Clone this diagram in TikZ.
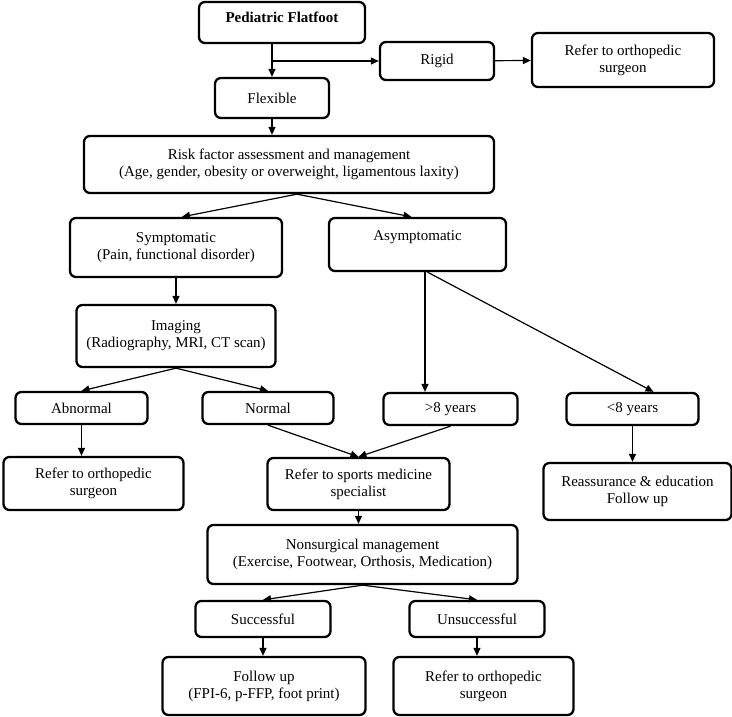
\documentclass[tikz,border=0pt]{standalone}
\usepackage{fontspec}
\setmainfont{Liberation Serif}
\usepackage{tikz}
\usetikzlibrary{arrows.meta,shapes,positioning,automata,calc}

\begin{document}
\begin{tikzpicture}[->,>={Triangle[length=8pt,width=7pt]},auto,
line width=1.2pt, font=\fontsize{15}{17}\selectfont]

\tikzstyle{every state}=[rectangle, rounded corners=6pt, align=center, text centered,
fill=none,draw,text=black, line width=2.3pt, inner sep=2pt]

\useasboundingbox (-282pt,22.5pt) rectangle (450pt,-693.5pt);

%start state
\node[state, minimum width=166pt, minimum height=41pt, text depth=11pt]
(ped)
{\textbf{Pediatric Flatfoot}};

\node[state, minimum width=114pt, minimum height=40pt]
(flex) [below of=ped, node distance=75.5pt, xshift=-10pt]
{Flexible};

\node[state, minimum width=114pt, minimum height=38pt]
(rigid) [right of=ped, node distance=155pt, yshift=-38.5pt]
{Rigid};

\node[state, minimum width=182pt, minimum height=54pt]
(ort1) [right of=rigid, node distance=186pt, yshift=1pt]
{Refer to orthopedic\\surgeon};

\node[state, minimum width=410pt, minimum height=57pt]
(risk) [below of=flex, node distance=66.5pt, xshift=17pt]
{Risk factor assessment and management\\(Age, gender, obesity or overweight, ligamentous laxity)};

%symptoms
\node[state, minimum width=212pt, minimum height=59pt]
(sym) [below of=risk, node distance=83pt, xshift=-113pt]
{Symptomatic\\(Pain, functional disorder)};

\node[state, minimum width=177pt, minimum height=53pt]
(asym) [right of=sym, node distance=241.5pt, yshift=3pt]
{Asymptomatic\\\mbox{}};

\node[state, minimum width=199pt, minimum height=62pt]
(img) [below of=sym, node distance=88.5pt]
{Imaging\\(Radiography, MRI, CT scan)};

\node[state, minimum width=132pt, minimum height=32pt]
(abn) [below of=img, node distance=72pt, xshift=-94.5pt]
{Abnormal};

\node[state, minimum width=131pt, minimum height=32pt]
(norm) [right of=abn, node distance=186.5pt]
{Normal};

\node[state, minimum width=134pt, minimum height=32pt]
(old) [right of=norm, node distance=182.5pt, yshift=-1pt]
{>8 years};

\node[state, minimum width=132pt, minimum height=32pt]
(young) [right of=old, node distance=182pt]
{<8 years};

\node[state, minimum width=180pt, minimum height=53pt]
(ort2) [below of=abn, node distance=75.5pt, xshift=12pt]
{Refer to orthopedic\\surgeon};

\node[state, minimum width=182pt, minimum height=52pt]
(sport) [below of=norm, node distance=76pt, xshift=90.5pt]
{Refer to sports medicine\\specialist};

\node[state, minimum width=188pt, minimum height=57pt]
(reas) [below of=young, node distance=82.5pt, xshift=5pt]
{Reassurance \& education\\Follow up};

%management
\node[state, minimum width=310pt, minimum height=59pt]
(nons) [below of=sport, node distance=70.5pt, xshift=4pt]
{Nonsurgical management\\(Exercise, Footwear, Orthosis, Medication)};

\node[state, minimum width=135pt, minimum height=36pt]
(succ) [below of=nons, node distance=64.5pt, xshift=-99.5pt]
{Successful};

\node[state, minimum width=135pt, minimum height=36pt]
(fail) [right of=succ, node distance=214pt]
{Unsuccessful};

\node[state, minimum width=203pt, minimum height=58pt]
(fol) [below of=succ, node distance=67pt, xshift=1pt]
{Follow up\\(FPI-6, p-FFP, foot print)};

\node[state, minimum width=180pt, minimum height=58pt]
(ort3) [right of=fol, node distance=219.5pt]
{Refer to orthopedic\\surgeon};

\coordinate (split) at (flex.north |- rigid.west);

\path[->] (ped.south -| flex.north) edge (flex.north);
\path[->] (split) edge (rigid);
\path[->] (rigid) edge (ort1);
\path[->] (flex) edge (flex.south |- risk.north);
\path[->] ([xshift=8pt]risk.south) edge ([xshift=6pt]sym.north);
\path[->] ([xshift=8pt]risk.south) edge ([xshift=-6pt]asym.north);
\path[->] (sym) edge (sym.south |- img.north);
\path[->] (img.south) edge (abn.north);
\path[->] (img.south) edge (norm.north);
\path[->] ([xshift=7.5pt]asym.south) edge ([xshift=7.5pt]asym.south |- old.north);
\path[->] ([xshift=10pt]asym.south) edge ([xshift=21pt]young.north);
\path[->] (abn) edge (abn.south |- ort2.north);
\path[->] (norm.south) edge (sport.north);
\path[->] (old.south) edge (sport.north);
\path[->] (young) edge (young.south |- reas.north);
\path[->] (sport) edge (sport.south |- nons.north);
\path[->] (nons.south) edge (succ.north);
\path[->] (nons.south) edge (fail.north);
\path[->] (succ) edge (succ.south |- fol.north);
\path[->] (fail) edge (fail.south |- ort3.north);

\end{tikzpicture}
\end{document}
